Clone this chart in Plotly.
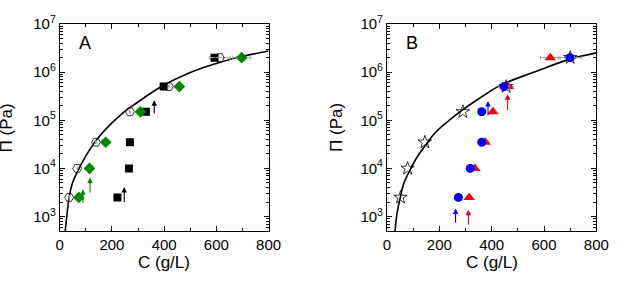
import plotly.graph_objects as go
import math

# ---------------- data ----------------
# Panel A
hex_C = [36, 67, 139, 269, 418, 613]
hex_P = [2500, 1e4, 3.5e4, 1.5e5, 5e5, 2e6]
hex_err = [0, 0, 0, 0, 0, 40]

dia_C = [73, 114, 176, 309, 458, 697]
dia_P = [2500, 1e4, 3.5e4, 1.5e5, 5e5, 2e6]
dia_err = [0, 0, 0, 0, 0, 35]

sq_C = [221, 265, 269, 330, 398, 593]
sq_P = [2500, 1e4, 3.5e4, 1.5e5, 5e5, 2e6]

fitA_C = [21, 28, 36, 50, 76, 100, 131, 170, 241, 300, 383, 495, 600, 668, 800]
fitA_P = [501, 1122, 2512, 5248, 10470, 18200, 33110, 60260, 141300, 239900,
          478600, 955000, 1514000, 1950000, 2754000]

# arrows: C, tail Pi, head Pi
arrA_C = [89, 116, 247, 362]
arrA_lo = [1780, 2950, 1860, 1.29e5]
arrA_hi = [3700, 6450, 4100, 2.6e5]
arrA_col = ["green", "green", "black", "black"]

# Panel B
star_C = [52, 79, 145, 290, 455, 700]
star_P = [2500, 1e4, 3.5e4, 1.5e5, 5e5, 2e6]

circ_C = [273, 318, 362, 362, 447, 699]
circ_P = [2500, 1e4, 3.5e4, 1.5e5, 5e5, 2e6]
circ_err = [0, 0, 0, 0, 20, 45]

tri_C = [314, 336, 376, 405, 463, 624]
tri_P = [2500, 1e4, 3.5e4, 1.5e5, 5e5, 2e6]
tri_err = [0, 0, 0, 0, 20, 37]

fitB_C = [31, 38, 51, 65, 91, 120, 154, 184, 290, 360, 438, 562, 699, 800]
fitB_P = [501, 1122, 2512, 5012, 10000, 19050, 33900, 54950, 166000, 302000,
          549500, 1000000, 1862000, 2512000]

arrB_C = [262, 386, 311, 461]
arrB_lo = [690, 1.17e5, 631, 1.48e5]
arrB_hi = [1480, 2.5e5, 1380, 3.47e5]
arrB_col = ["blue", "blue", "red", "red"]

x_ticks = [0, 200, 400, 600, 800]
y_ticks = [1e3, 1e4, 1e5, 1e6, 1e7]
y_ticktext = ["10<sup>3</sup>", "10<sup>4</sup>", "10<sup>5</sup>",
              "10<sup>6</sup>", "10<sup>7</sup>"]

# ---------------- styling ----------------
GREEN = "rgb(0,135,0)"
BLUE = "rgb(0,0,245)"
RED = "rgb(240,0,0)"
colmap = {"green": GREEN, "black": "black", "blue": BLUE, "red": RED}
FONT = "Liberation Sans, Arial, sans-serif"
W, H = 623, 281

fig = go.Figure()

def errx(vals):
    return dict(type="data", array=vals, color="rgb(160,160,160)",
                thickness=1, width=2, visible=True)

# Panel A traces
fig.add_trace(go.Scatter(x=fitA_C, y=fitA_P, mode="lines", line=dict(color="black", width=1.6, shape="spline"),
                         xaxis="x", yaxis="y"))
fig.add_trace(go.Scatter(x=sq_C, y=sq_P, mode="markers",
                         marker=dict(symbol="square", size=8, color="black"), xaxis="x", yaxis="y"))
fig.add_trace(go.Scatter(x=hex_C, y=hex_P, mode="markers", error_x=errx(hex_err),
                         marker=dict(symbol="hexagon2-open", size=9, color="black", line=dict(width=0.8)),
                         xaxis="x", yaxis="y"))
fig.add_trace(go.Scatter(x=dia_C, y=dia_P, mode="markers", error_x=errx(dia_err),
                         marker=dict(symbol="diamond", size=9, color=GREEN), xaxis="x", yaxis="y"))

# Panel B traces
fig.add_trace(go.Scatter(x=fitB_C, y=fitB_P, mode="lines", line=dict(color="black", width=1.6, shape="spline"),
                         xaxis="x2", yaxis="y2"))
fig.add_trace(go.Scatter(x=star_C, y=star_P, mode="markers",
                         marker=dict(symbol="star-open", size=10, color="black", line=dict(width=0.8)),
                         xaxis="x2", yaxis="y2"))
fig.add_trace(go.Scatter(x=tri_C, y=tri_P, mode="markers", error_x=errx(tri_err),
                         marker=dict(symbol="triangle-up", size=10, color=RED), xaxis="x2", yaxis="y2"))
fig.add_trace(go.Scatter(x=circ_C, y=circ_P, mode="markers", error_x=errx(circ_err),
                         marker=dict(symbol="circle", size=9, color=BLUE), xaxis="x2", yaxis="y2"))

annotations = []
for xs, lo, hi, cols, xr, yr in [(arrA_C, arrA_lo, arrA_hi, arrA_col, "x", "y"),
                                 (arrB_C, arrB_lo, arrB_hi, arrB_col, "x2", "y2")]:
    for c, a, b, col in zip(xs, lo, hi, cols):
        annotations.append(dict(x=c, y=math.log10(b), ax=c, ay=math.log10(a),
                                xref=xr, yref=yr, axref=xr, ayref=yr, text="",
                                showarrow=True, arrowhead=2, arrowsize=1.0, arrowwidth=1.1,
                                arrowcolor=colmap[col]))

domA = [57.3 / W, 272.0 / W]
domB = [393.7 / W, 609.0 / W]
domY = [1 - 229.0 / H, 1 - 13.5 / H]

# axis titles and panel letters
for cx, lx in [((domA[0] + domA[1]) / 2, 3.0 / W), ((domB[0] + domB[1]) / 2, 341.7 / W)]:
    annotations.append(dict(x=cx, y=1 - 262.0 / H, xref="paper", yref="paper", text="C (g/L)",
                            showarrow=False, font=dict(size=17, family=FONT, color="black"),
                            xanchor="center", yanchor="middle"))
    annotations.append(dict(x=lx, y=(domY[0] + domY[1]) / 2, xref="paper", yref="paper", text="Π (Pa)",
                            textangle=-90, showarrow=False, font=dict(size=17, family=FONT, color="black"),
                            xanchor="center", yanchor="middle"))
annotations.append(dict(x=83.0 / W, y=1 - 33.0 / H, xref="paper", yref="paper", text="A", showarrow=False,
                        font=dict(size=18, family=FONT, color="black"), xanchor="center", yanchor="middle"))
annotations.append(dict(x=419.0 / W, y=1 - 33.0 / H, xref="paper", yref="paper", text="B", showarrow=False,
                        font=dict(size=18, family=FONT, color="black"), xanchor="center", yanchor="middle"))

minor_vals = [m * 10 ** k for k in range(2, 7) for m in range(2, 10)]

def xax(dom, anchor):
    return dict(domain=dom, anchor=anchor, range=[0, 800], tickvals=x_ticks,
                ticks="inside", ticklen=5, tickcolor="black", showline=True, linecolor="black",
                linewidth=1, mirror="ticks", showgrid=False, zeroline=False,
                tickfont=dict(size=15, family=FONT, color="black"),
                minor=dict(tickvals=[100, 300, 500, 700], ticks="inside", ticklen=3, tickcolor="black"))

def yax(anchor):
    return dict(domain=domY, anchor=anchor, type="log", range=[2.7, 7], tickvals=y_ticks,
                ticktext=y_ticktext, ticks="inside", ticklen=5, tickcolor="black", showline=True,
                linecolor="black", linewidth=1, mirror="ticks", showgrid=False, zeroline=False,
                tickfont=dict(size=15, family=FONT, color="black"),
                minor=dict(tickvals=minor_vals, ticks="inside", ticklen=3, tickcolor="black"))

fig.update_layout(
    width=W, height=H, margin=dict(l=0, r=0, t=0, b=0),
    paper_bgcolor="white", plot_bgcolor="white", showlegend=False,
    font=dict(family=FONT, color="black"),
    xaxis=xax(domA, "y"), yaxis=yax("x"),
    xaxis2=xax(domB, "y2"), yaxis2=yax("x2"),
    annotations=annotations,
)

fig.write_html("out.html")
